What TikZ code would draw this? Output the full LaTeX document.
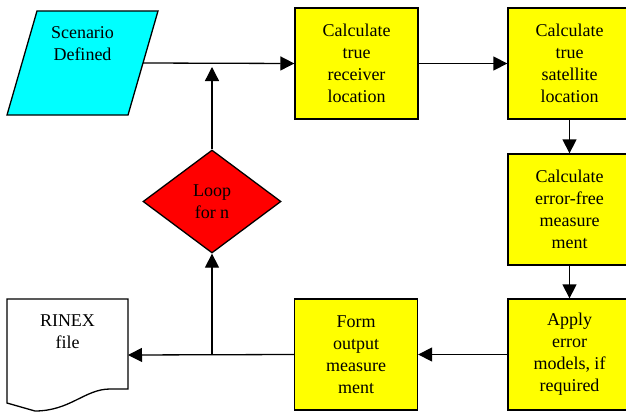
\documentclass[tikz,border=0pt]{standalone}
\usepackage{fontspec}
\setmainfont{Liberation Serif}
\usetikzlibrary{shapes.geometric,arrows.meta}
\definecolor{scencyan}{RGB}{0,255,255}
\definecolor{boxyellow}{RGB}{255,255,0}
\definecolor{looped}{RGB}{255,0,0}
\begin{document}
\begin{tikzpicture}[x=1pt, y=-1pt, font=\fontsize{18}{22}\selectfont, line join=miter,
	>={Triangle[length=14pt,width=14pt]},
	line width=1.3pt,
	stepbox/.style={draw, fill=boxyellow, minimum width=123pt, minimum height=111pt, align=center, inner sep=0pt},
	loopdia/.style={draw, fill=looped, diamond, minimum width=138pt, minimum height=103pt, align=center, inner sep=0pt}]
	\useasboundingbox (0,0) rectangle (626,412);
	\clip (0,0) rectangle (626,412);
	% scenario (parallelogram)
	\draw[fill=scencyan] (37,11)--(158,11)--(128,115)--(7,115)--cycle;
	\node[align=center] (scen) at (82.5,44) {Scenario\\Defined};
	\coordinate (scenE) at (143,63);
	% boxes
	\node[stepbox] (recv) at (356.5,63.5) {Calculate\\true\\receiver\\location};
	\node[stepbox] (sat) at (569.5,63.5) {Calculate\\true\\satellite\\location};
	\node[stepbox] (free) at (569.5,209.5) {Calculate\\error-free\\measure\\ment};
	\node[stepbox] (err) at (569.5,354.5) {Apply\\error\\models, if\\required};
	\node[stepbox] (form) at (356,354.5) {Form\\output\\measure\\ment};
	\node[loopdia] (loop) at (212,201.5) {Loop\\for n};
	% RINEX file
	\draw (7,299)--(128,299)--(128,389)--(110,389) .. controls (85,389) and (70,411) .. (35,411)--(7,403)--cycle;
	\node[align=center] (rinex) at (67.5,332) {RINEX\\file};
	\coordinate (rinexE) at (128,355);
	\coordinate (join) at (212,63);
	\coordinate (split) at (212,355);
	% connectors
	\draw[->] (scenE)--(recv.west);
	\draw[->] (recv.east)--(sat.west);
	\draw[->] (sat.south)--(free.north);
	\draw[->] (free.south)--(err.north);
	\draw[->] (err.west)--(form.east);
	\draw[->] (form.west)--(rinexE);
	\draw[->] (split)--(loop.south);
	\draw[->] (loop.north)--([yshift=-4pt]join);
\end{tikzpicture}
\end{document}
